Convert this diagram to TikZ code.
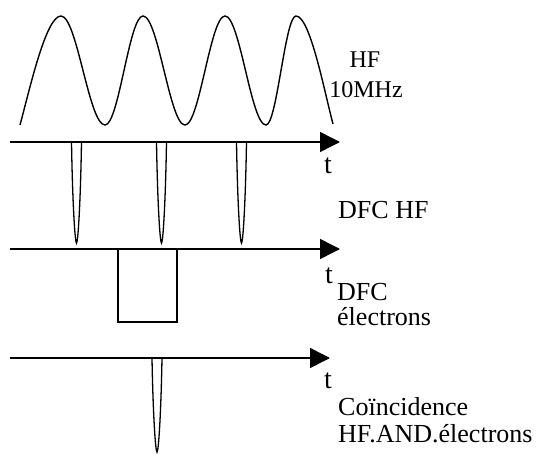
\documentclass[tikz,border=0pt]{standalone}
\usepackage{fontspec}
\setmainfont{Liberation Serif}
\usetikzlibrary{arrows.meta}
\newcommand\vpulse[3]{%
  \draw[sig] (#1-5,#2) .. controls (#1-4,{#2+0.6*(#3-#2)}) and (#1-1.5,#3) .. (#1,#3)
     .. controls (#1+1.5,#3) and (#1+4,{#2+0.6*(#3-#2)}) .. (#1+5,#2);}
\begin{document}
\begin{tikzpicture}[x=1pt,y=-1pt,
  axis/.style={line width=1.5pt,-{Triangle[length=20pt,width=20pt]}},
  wave/.style={line width=1.4pt},
  sig/.style={line width=1.3pt},
  lbl/.style={anchor=base west,inner sep=0pt,font=\fontsize{26}{27}\selectfont},
  hflbl/.style={anchor=base,inner sep=0pt,font=\fontsize{24}{27}\selectfont},
  tlbl/.style={anchor=base,inner sep=0pt,font=\fontsize{28}{30}\selectfont}]
\useasboundingbox (0,0) rectangle (539,455);
% HF sine wave
\draw[wave] (20,125) .. controls (30,88) and (46,16) .. (61,16)
  cos (83,70.5) sin (105,125) cos (124,70.5) sin (143,16)
  cos (164,70.5) sin (185,125) cos (205,70.5) sin (225,16)
  cos (245.5,70.5) sin (266,125) cos (281,70.5) sin (296,16)
  .. controls (310,16) and (324,90) .. (333,124);
\node[hflbl] (hf) at (365,67) {HF};
\node[hflbl] (mhz) at (366,97) {10MHz};
% axis 1 : DFC HF
\coordinate (a1s) at (10,142);
\coordinate (a1e) at (340,142);
\draw[axis] (a1s) -- (a1e);
\vpulse{76.5}{142}{243}
\vpulse{161.5}{142}{243}
\vpulse{241.5}{142}{243}
\node[tlbl] (t1) at (328,173) {t};
\node[lbl] (dfchf) at (338,218) {DFC HF};
% axis 2 : DFC electrons
\coordinate (a2s) at (10,249);
\coordinate (a2e) at (340,249);
\draw[axis] (a2s) -- (a2e);
\draw[sig] (118,249) -- (118,322) -- (177,322) -- (177,249);
\node[tlbl] (t2) at (329,283) {t};
\node[lbl] (dfc) at (337,300) {DFC};
\node[lbl] (elec) at (337,325) {électrons};
% axis 3 : coincidence
\coordinate (a3s) at (10,358);
\coordinate (a3e) at (330,358);
\draw[axis] (a3s) -- (a3e);
\vpulse{157}{358}{452}
\node[tlbl] (t3) at (328,388) {t};
\node[lbl] (coinc) at (338,415) {Coïncidence};
\node[lbl] (and) at (338,442) {HF.AND.électrons};
\end{tikzpicture}
\end{document}
